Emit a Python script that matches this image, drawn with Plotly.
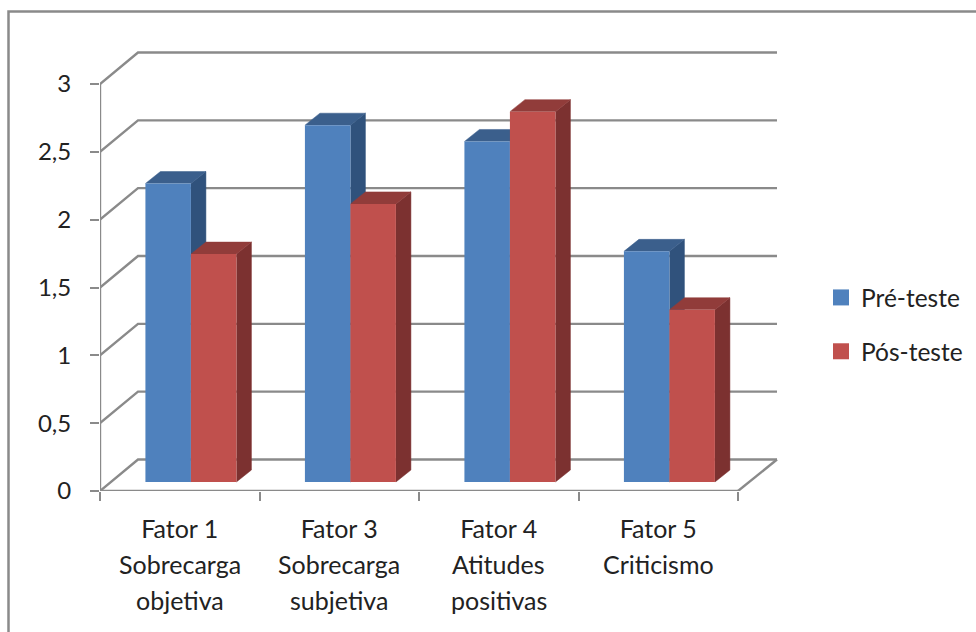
import plotly.graph_objects as go

categories = ["Fator 1", "Fator 3", "Fator 4", "Fator 5"]
line2 = ["Sobrecarga", "Sobrecarga", "Atitudes", "Criticismo"]
line3 = ["objetiva", "subjetiva", "positivas", ""]
pre = [2.20, 2.63, 2.51, 1.70]
pos = [1.68, 2.05, 2.73, 1.27]
y_ticks = [0, 0.5, 1, 1.5, 2, 2.5, 3]
y_labels = ["0", "0,5", "1", "1,5", "2", "2,5", "3"]

W, H = 976, 632
PX_L, PX_T, PX_R, PX_B = 100, 40, 790, 491
UX = (738 - 100) / 4
UY = (491 - 84) / 3
X_RANGE = (PX_R - PX_L) / UX
Y_RANGE = (PX_B - PX_T) / UY
X_MAX = (777 - PX_L) / UX
WALL_DX = (138 - 100) / UX
WALL_DY = 31.5 / UY
BAR_DX = 15 / UX
BAR_DY = 12 / UY
BAR_W = 45.5 / UX
FLOOR = (491 - 482) / UY
SHIFT = 0.07
GRID = "#8a8a8a"
BLUE, BLUE_TOP, BLUE_SIDE = "#4f81bd", "#3b5f8c", "#30527c"
RED, RED_TOP, RED_SIDE = "#c0504d", "#913c3a", "#7c3130"

fig = go.Figure()

# back wall grid, with the diagonal on the left side
gx, gy = [], []
for t in y_ticks:
    gx += [0, WALL_DX, X_MAX, None]
    gy += [t, t + WALL_DY, t + WALL_DY, None]
gx += [4, X_MAX, None]
gy += [0, WALL_DY, None]
fig.add_trace(go.Scatter(x=gx, y=gy, mode="lines", line=dict(color=GRID, width=2.4),
                         hoverinfo="skip", showlegend=False, cliponaxis=False))
# axis lines
fig.add_trace(go.Scatter(x=[0, 0, None, 0, 4], y=[3, 0, None, 0, 0], mode="lines",
                         line=dict(color=GRID, width=2.4), hoverinfo="skip",
                         showlegend=False, cliponaxis=False))


def face(xs, ys, color):
    fig.add_trace(go.Scatter(x=xs, y=ys, mode="lines", fill="toself", fillcolor=color,
                             line=dict(color=color, width=0.5), hoverinfo="skip",
                             showlegend=False, cliponaxis=False))


def depth_faces(center, left, value, top_color, side_color):
    x0 = center + left
    x1 = x0 + BAR_W
    y0 = FLOOR
    y1 = FLOOR + value
    face([x1, x1 + BAR_DX, x1 + BAR_DX, x1], [y0, y0 + BAR_DY, y1 + BAR_DY, y1], side_color)
    face([x0, x0 + BAR_DX, x1 + BAR_DX, x1], [y1, y1 + BAR_DY, y1 + BAR_DY, y1], top_color)


centers = [i + 0.5 + SHIFT for i in range(len(categories))]
for c, a, b in zip(centers, pre, pos):
    depth_faces(c, -BAR_W, a, BLUE_TOP, BLUE_SIDE)
    depth_faces(c, 0, b, RED_TOP, RED_SIDE)

# front faces sit on the overlaying axes, so they cover the depth faces
fig.add_trace(go.Bar(x=centers, y=pre, base=FLOOR, width=BAR_W, offset=-BAR_W,
                     marker=dict(color=BLUE, line=dict(width=0)), xaxis="x2", yaxis="y2",
                     name="Pré-teste", showlegend=False))
fig.add_trace(go.Bar(x=centers, y=pos, base=FLOOR, width=BAR_W, offset=0,
                     marker=dict(color=RED, line=dict(width=0)), xaxis="x2", yaxis="y2",
                     name="Pós-teste", showlegend=False))

# legend entries
for name, color in (("Pré-teste", BLUE), ("Pós-teste", RED)):
    fig.add_trace(go.Scatter(x=[None], y=[None], mode="markers", name=name, legendgroup=name,
                             marker=dict(symbol="square", size=16, color=color)))

FONT = "Lato"
TXT = "#222222"
FS = 25

annotations = []
for i, (a, b) in enumerate(zip(line2, line3)):
    for k, t in enumerate((a, b)):
        if t:
            annotations.append(dict(x=i + 0.5, y=0, xref="x", yref="y", text=t, showarrow=False,
                                    xanchor="center", yanchor="middle",
                                    yshift=-(564 - 491 + 35.5 * k),
                                    font=dict(family=FONT, size=FS, color=TXT)))

fig.update_layout(
    width=W, height=H, autosize=False,
    margin=dict(l=PX_L, r=W - PX_R, t=PX_T, b=H - PX_B, pad=0),
    paper_bgcolor="white", plot_bgcolor="white",
    barmode="overlay",
    font=dict(family=FONT, size=FS, color=TXT),
    xaxis=dict(range=[0, X_RANGE], tickmode="array", tickvals=[0, 1, 2, 3, 4],
               showticklabels=False, ticks="outside", ticklen=9, tickwidth=2.4, tickcolor=GRID,
               showgrid=False, zeroline=False, showline=False),
    yaxis=dict(range=[0, Y_RANGE], tickmode="array", tickvals=y_ticks, ticktext=y_labels,
               ticks="outside", ticklen=9, tickwidth=2.4, tickcolor=GRID, ticklabelstandoff=14,
               tickfont=dict(family=FONT, size=24, color=TXT),
               showgrid=False, zeroline=False, showline=False),
    xaxis2=dict(range=[0, X_RANGE], overlaying="x", side="bottom", anchor="y2", tickmode="array",
                tickvals=[i + 0.5 for i in range(len(categories))], ticktext=categories,
                ticks="", ticklabelstandoff=21, showgrid=False, zeroline=False, showline=False),
    yaxis2=dict(range=[0, Y_RANGE], overlaying="y", side="left", anchor="x2", visible=False,
                showgrid=False, zeroline=False),
    legend=dict(x=821 / W, y=1 - 275 / H, xref="container", yref="container",
                xanchor="left", yanchor="top",
                bgcolor="rgba(0,0,0,0)", tracegroupgap=19, itemwidth=30, itemclick=False,
                font=dict(family=FONT, size=24.5, color=TXT)),
    annotations=annotations,
    shapes=[dict(type="rect", xref="paper", yref="paper",
                 x0=(8.5 - PX_L) / (PX_R - PX_L), x1=(1100 - PX_L) / (PX_R - PX_L),
                 y0=(PX_B - 800) / (PX_B - PX_T), y1=(PX_B - 11.5) / (PX_B - PX_T),
                 line=dict(color=GRID, width=2.5), fillcolor="rgba(0,0,0,0)", layer="below")],
)

fig.write_html("out.html", config=dict(displayModeBar=False),
               post_script="document.body.style.margin='0';document.documentElement.style.overflow='hidden';")
